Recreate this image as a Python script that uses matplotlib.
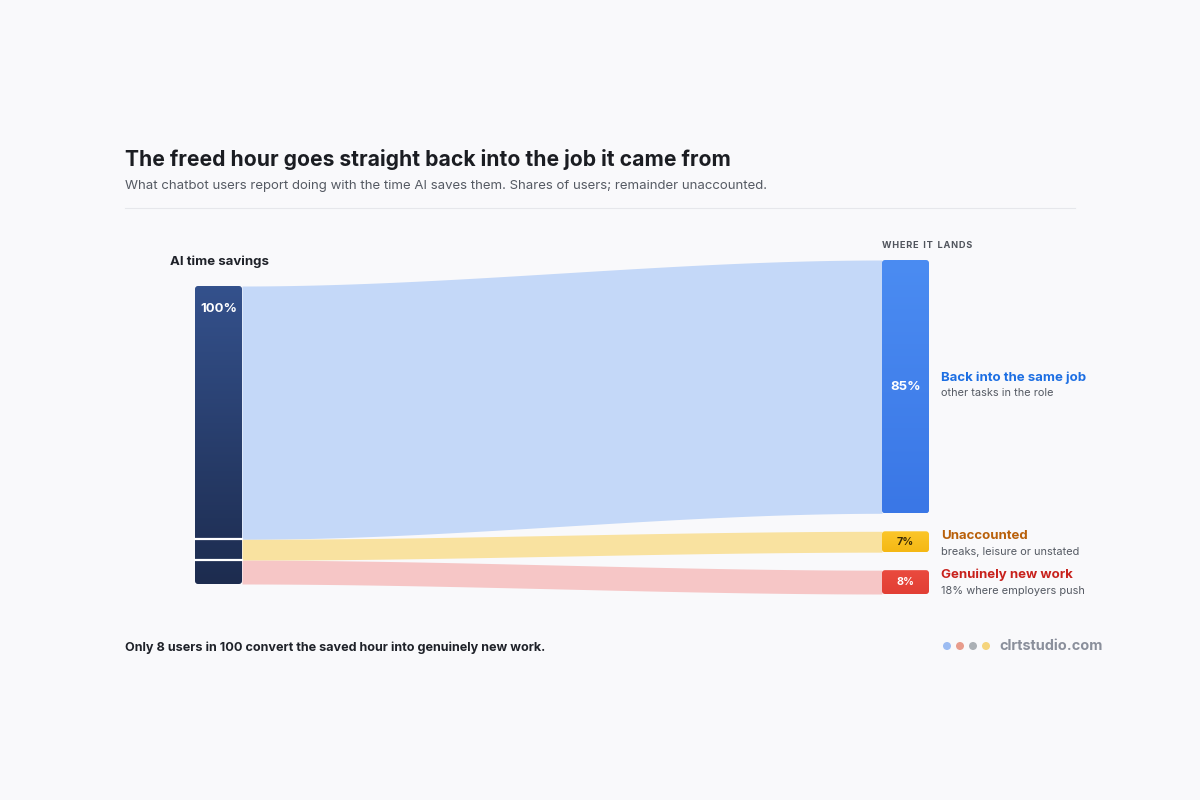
import numpy as np
import matplotlib.pyplot as plt
from matplotlib.patches import FancyBboxPatch, Circle

# data
source_label = "AI time savings"
target_labels = ["Back into the same job", "Unaccounted", "Genuinely new work"]
target_notes = ["other tasks in the role", "breaks, leisure or unstated", "18% where employers push"]
shares = [85, 7, 8]

title = "The freed hour goes straight back into the job it came from"
subtitle = "What chatbot users report doing with the time AI saves them. Shares of users; remainder unaccounted."
footer = "Only 8 users in 100 convert the saved hour into genuinely new work."

# styling
plt.rcParams['font.family'] = ['Inter', 'DejaVu Sans']
bg = "#f9f9fb"
node_cols = [("#4b8cf2", "#3a77e6"), ("#fbc62a", "#f5b814"), ("#ea4a3e", "#e23f35")]
flow_cols = ["#c4d8f8", "#f9e2a0", "#f6c6c6"]
label_cols = ["#1d6fe3", "#b9600a", "#c8211c"]
pct_cols = ["white", "#3a2a05", "white"]

fig = plt.figure(figsize=(12, 8), dpi=100, facecolor=bg)
ax = fig.add_axes([0, 0, 1, 1])
ax.set_xlim(0, 1200)
ax.set_ylim(800, 0)
ax.axis("off")
ax.set_facecolor(bg)

# layout in pixels
scale = 2.98           # px per percentage point
left_x0, left_x1 = 195, 242
right_x0, right_x1 = 882, 929
left_top = 286
right_top = 260
gap = 18


def grad_box(x0, y0, x1, y1, c_top, c_bot, r=3, z=3):
    box = FancyBboxPatch((x0, y0), x1 - x0, y1 - y0,
                         boxstyle=f"round,pad=0,rounding_size={r}",
                         facecolor="none", edgecolor="none", zorder=z)
    ax.add_patch(box)
    ct = np.array(plt.matplotlib.colors.to_rgb(c_top))
    cb = np.array(plt.matplotlib.colors.to_rgb(c_bot))
    t = np.linspace(0, 1, 64)[:, None]
    img = (ct * (1 - t) + cb * t)[:, None, :]
    im = ax.imshow(img, extent=(x0, x1, y1, y0), aspect="auto", zorder=z,
                   interpolation="bilinear")
    im.set_clip_path(box)


# node positions
total = sum(shares)
lefts = []
y = left_top
for s in shares:
    h = s * scale
    lefts.append((y, y + h))
    y += h

rights = []
y = right_top
for s in shares:
    h = s * scale
    rights.append((y, y + h))
    y += h + gap

# flows
xs = np.linspace(left_x1, right_x0, 200)
t = (xs - left_x1) / (right_x0 - left_x1)
sm = 3 * t ** 2 - 2 * t ** 3
for (la, lb), (ra, rb), c in zip(lefts, rights, flow_cols):
    top = la + (ra - la) * sm
    bot = lb + (rb - lb) * sm
    ax.fill_between(xs, top, bot, color=c, lw=0, zorder=1)

# left node
grad_box(left_x0, left_top, left_x1, lefts[-1][1], "#34518c", "#1d2c4f")
for (a, b) in lefts[:-1]:
    ax.plot([left_x0, left_x1], [b, b], color="white", lw=1.6, zorder=4)
ax.text((left_x0 + left_x1) / 2, left_top + 23, f"{total}%", color="white",
        fontsize=9.5, fontweight="bold", ha="center", va="center", zorder=5)
ax.text(170, 262, source_label, fontsize=9.5, fontweight="bold",
        color="#1f2229", ha="left", va="center")

# right nodes
for (a, b), (ct, cb), s, lab, note, lc, pc in zip(rights, node_cols, shares,
                                                   target_labels, target_notes,
                                                   label_cols, pct_cols):
    grad_box(right_x0, a, right_x1, b, ct, cb)
    mid = (a + b) / 2
    big = (b - a) > 40
    ax.text((right_x0 + right_x1) / 2, mid, f"{s}%", color=pc,
            fontsize=9.5 if big else 7.8, fontweight="bold",
            ha="center", va="center", zorder=5)
    ly = mid - 9 if big else a + 5
    ax.text(941, ly, lab, color=lc, fontsize=9.5, fontweight="bold",
            ha="left", va="center")
    ax.text(941, ly + 15.5, note, color="#555a63", fontsize=7.9,
            ha="left", va="center")

ax.text(882, 246, "W H E R E   I T   L A N D S".replace("   ", "\u2002").replace(" ", "\u200a"),
        fontsize=6.6, fontweight="bold", color="#50545c", ha="left", va="center")

# titles
ax.text(125, 160, title, fontsize=15.2, fontweight="bold", color="#1b1d22",
        ha="left", va="center")
ax.text(125, 186, subtitle, fontsize=9.5, color="#555a63", ha="left", va="center")
ax.plot([125, 1075], [208, 208], color="#e6e7eb", lw=0.8)

# footer
ax.text(125, 648, footer, fontsize=9.1, fontweight="bold", color="#1f2229",
        ha="left", va="center")
for i, c in enumerate(["#9cbcf2", "#e89c8c", "#abb0b5", "#f5d47c"]):
    ax.add_patch(Circle((947 + i * 13, 646), 4, color=c, lw=0))
ax.text(999, 646, "clrtstudio.com", fontsize=10.4, fontweight="bold",
        color="#8a8f9b", ha="left", va="center")

fig.savefig("out.png", dpi=100, facecolor=bg)
